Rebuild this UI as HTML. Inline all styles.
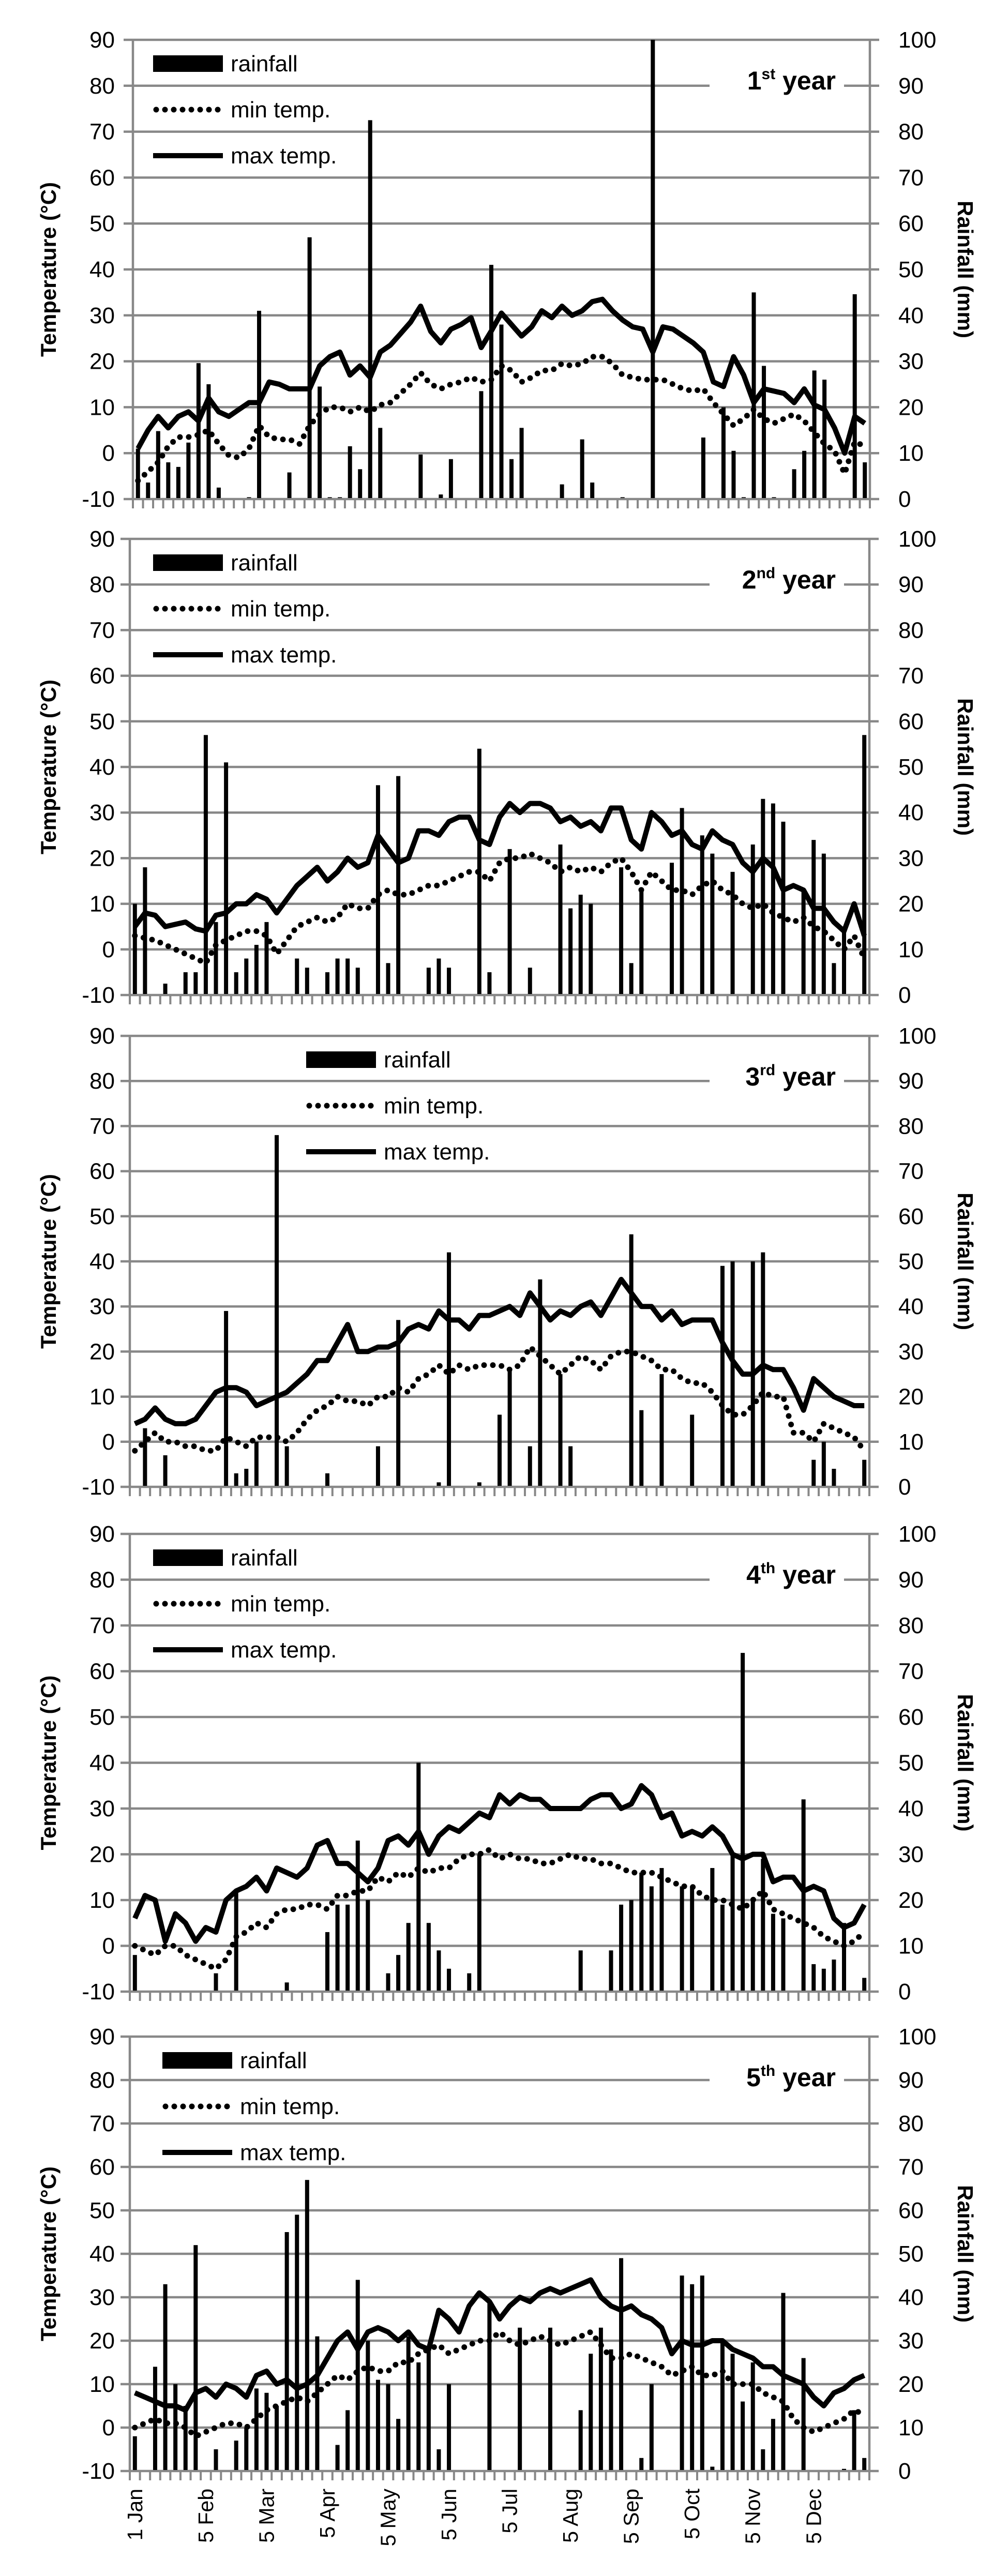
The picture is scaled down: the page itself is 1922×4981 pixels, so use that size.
<!DOCTYPE html>
<html><head><meta charset="utf-8"><style>
html,body{margin:0;padding:0;background:#fff;}
svg{display:block;}
text{font-family:"Liberation Sans",sans-serif;}
</style></head><body>
<svg id="chart" width="1922" height="4981" viewBox="0 0 1922 4981" xmlns="http://www.w3.org/2000/svg"></svg>
<script>
// ---- data (pentads, 73 per year) ----
const xLabels = ["1 Jan","5 Feb","5 Mar","5 Apr","5 May","5 Jun","5 Jul","5 Aug","5 Sep","5 Oct","5 Nov","5 Dec"];
const xLabelIdx = [0,7,13,19,25,31,37,43,49,55,61,67];
const tempTicks = [-10,0,10,20,30,40,50,60,70,80,90];
const rainTicks = [0,10,20,30,40,50,60,70,80,90,100];
const yearNames = ["1","2","3","4","5"];
const yearSup = ["st","nd","rd","th","th"];

const max1 = [1,5,8,5.5,8,9,7,12,9,8,9.5,11,11,15.5,15,14,14,14,19,21,22,17,19,16.5,22,23.5,26,28.5,32,26.5,24,27,28,29.5,23,26.6,30.5,28,25.5,27.5,31,29.5,32,30,31,33,33.5,31,29,27.5,27,22,27.5,27,25.5,24,22,15.5,14.5,21,17,11,14,13.5,13,11,14,10.5,9.5,5.5,0,8,6.5];
const min1 = [-6,-4,-2,1.5,3.5,3.5,4,5,2,-0.5,-1,1,6,3.5,3,3,2,6,8.5,10,10,9,10,9,10.5,11,13,15,17.5,15,14,15,15.5,16.5,15.5,16,19,18,15.5,16.5,18,18,19.5,19,19.5,21,21,19.5,17,16.5,16,16,16,15,14,13.5,14,11,8.5,6,7.5,9.5,7.5,6.5,7.5,8.5,7,4.5,2,0.5,-4.5,2.5,1.5];
const rain1 = [11,3.6,14.8,8,7,12.3,29.6,25,2.5,0,0,0.4,41,0,0,5.8,0,57,24.5,0.4,0.4,11.5,6.5,82.5,15.5,0,0,0,9.7,0,1,8.7,0,0,23.5,51,38,8.7,15.5,0,0,0,3.2,0,13,3.6,0,0,0.4,0,0,100,0,0,0,0,13.4,0,20,10.5,0.4,45,29,0.4,0,6.5,10.5,28,26,0,0,44.6,8];

const max2 = [5,8,7.5,5,5.5,6,4.5,4,7.5,8,10,10,12,11,8,11,14,16,18,15,17,20,18,19,25,22,19,20,26,26,25,28,29,29,24,23,29,32,30,32,32,31,28,29,27,28,26,31,31,24,22,30,28,25,26,23,22,26,24,23,19,17,20,18,13,14,13,9,9,6,4,10,3];
const min2 = [3,2.5,2,1,0,-1,-2,-3,1,2,3,4,4,3,-1,2,5,6,7,6,7,10,9,9,12,13,12,12,13,14,14,15,16,17,17,15,19,20,20,21,20,19,17,18,17,18,17,19,20,17,13,17,15,13,13,12,14,15,13,12,10,9,10,8,7,6,7,5,4,2,0,3,-2];
const rain2 = [20,28,0,2.5,0,5,5,57,16,51,5,8,11,16,0,0,8,6,0,5,8,8,6,0,46,7,48,0,0,6,8,6,0,0,54,5,0,32,0,6,0,0,33,19,22,20,0,0,28,7,23,0,0,29,41,0,35,31,0,27,0,33,43,42,38,0,23,34,31,7,14,0,57];

const max3 = [4,5,7.5,5,4,4,5,8,11,12,12,11,8,9,10,11,13,15,18,18,22,26,20,20,21,21,22,25,26,25,29,27,27,25,28,28,29,30,28,33,30,27,29,28,30,31,28,32,36,33,30,30,27,29,26,27,27,27,22,18,15,15,17,16,16,12,7,14,12,10,9,8,8];
const min3 = [-2,0,2,0,0,-1,-1,-2,-2,1,0,-1,1,1,1,0,2,5,7,8,10,9,9,8,10,10,12,11,14,15,17,15,17,16,17,17,17,16,17,21,19,17,15,17,19,18,16,19,20,20,19,18,16,16,14,13,13,11,8,6,6,8,11,10,10,2,2,0,4,3,2,1,-2];
const rain3 = [0,13,0,7,0,0,0,0,0,39,3,4,10,0,78,9,0,0,0,3,0,0,0,0,9,0,37,0,0,0,1,52,0,0,1,0,16,26,0,9,46,0,25,9,0,0,0,0,0,56,17,0,25,0,0,16,0,0,49,50,0,50,52,0,0,0,0,6,10,4,0,0,6];

const max4 = [6,11,10,1,7,5,1,4,3,10,12,13,15,12,17,16,15,17,22,23,18,18,16,14,17,23,24,22,25,20,24,26,25,27,29,28,33,31,33,32,32,30,30,30,30,32,33,33,30,31,35,33,28,29,24,25,24,26,24,20,19,20,20,14,15,15,12,13,12,6,4,5,9];
const min4 = [0,-1,-2,0,0,-2,-3,-4,-5,-3,2,3,5,4,7,8,8,9,9,8,11,11,12,12,15,14,16,15,17,16,17,17,19,20,20,21,19,20,19,19,18,18,19,20,19,19,18,18,17,16,16,16,15,14,13,13,11,10,10,9,8,10,12,8,7,6,5,4,2,1,0,1,3];
const rain4 = [8,0,0,0,0,0,0,0,4,0,22,0,0,0,0,2,0,0,0,13,19,19,33,20,0,4,8,15,50,15,9,5,0,4,30,0,0,0,0,0,0,0,0,0,9,0,0,9,19,20,26,23,27,0,23,23,0,27,19,30,74,20,29,17,16,0,42,6,5,7,15,0,3];

const max5 = [8,7,6,5,5,4,8,9,7,10,9,7,12,13,10,11,9,10,12,16,20,22,18,22,23,22,20,22,19,18,27,25,22,28,31,29,25,28,30,29,31,32,31,32,33,34,30,28,27,28,26,25,23,17,20,19,19,20,20,18,17,16,14,14,12,11,10,7,5,8,9,11,12];
const min5 = [0,1,2,1,1,0,-2,-1,0,1,1,0,2,4,5,6,7,6,8,10,12,11,13,14,13,13,15,15,17,18,19,17,18,19,20,20,22,20,19,20,21,20,19,20,21,22,19,16,16,17,16,15,14,12,13,14,12,12,13,10,10,10,8,7,6,2,0,-1,0,1,2,4,3];
const rain5 = [8,0,24,43,20,15,52,0,5,0,7,10,19,18,15,55,59,67,31,0,6,14,44,30,21,20,12,31,25,28,5,20,0,0,0,39,0,0,33,0,0,33,0,0,14,27,33,28,49,0,3,20,0,0,45,43,45,1,30,27,16,25,5,12,41,0,26,0,0,0,0.5,14,3];

const maxData = [max1,max2,max3,max4,max5];
const minData = [min1,min2,min3,min4,min5];
const rainData = [rain1,rain2,rain3,rain4,rain5];

// ---- layout ----
const panels = [
  {top:77,bot:965,left:257,right:1682,leg:296},
  {top:1042,bot:1924,left:251,right:1681,leg:296},
  {top:2003,bot:2875,left:251,right:1681,leg:592},
  {top:2966,bot:3851,left:251,right:1681,leg:296},
  {top:3938,bot:4778,left:251,right:1681,leg:314}
];
const NS="http://www.w3.org/2000/svg";
const svg=document.getElementById('chart');
function mk(tag,attrs,parent){const e=document.createElementNS(NS,tag);for(const k in attrs)e.setAttribute(k,attrs[k]);(parent||svg).appendChild(e);return e;}
const GRAY="#888888";

panels.forEach((p,pi)=>{
  const g=mk('g',{});
  
  
  const n=73;
  const band=(p.right-p.left)/n;
  const xc=i=>p.left+(i+0.5)*band;
  const yT=t=>p.bot-(t+10)/100*(p.bot-p.top);
  const yR=r=>p.bot-r/100*(p.bot-p.top);

  tempTicks.forEach(t=>{
    const l=mk('line',{x1:p.left-18,x2:p.right+18,y1:yT(t),y2:yT(t),stroke:GRAY,'stroke-width':4.5},g);
    
    
    const tx=mk('text',{x:222,y:yT(t)+15,'text-anchor':'end','font-size':44},g);
    tx.textContent=t;
    
    
  });
  rainTicks.forEach(r=>{
    const tx=mk('text',{x:1737,y:yR(r)+15,'text-anchor':'start','font-size':44},g);
    tx.textContent=r;
    
    
  });
  const la=mk('line',{x1:p.left,x2:p.left,y1:p.top,y2:p.bot,stroke:GRAY,'stroke-width':4.5},g);
  
  
  const ra=mk('line',{x1:p.right,x2:p.right,y1:p.top,y2:p.bot,stroke:GRAY,'stroke-width':4.5},g);
  
  
  for(let i=0;i<=n;i++){
    const x=p.left+i*band;
    const tk=mk('line',{x1:x,x2:x,y1:p.bot,y2:p.bot+18,stroke:GRAY,'stroke-width':4},g);
    
    
  }
  const cy=(p.top+p.bot)/2;
  const at=mk('text',{x:0,y:0,'text-anchor':'middle','font-size':42,'font-weight':'bold',transform:`translate(108,${cy}) rotate(-90)`},g);
  at.textContent='Temperature (°C)';
  
  
  const rt=mk('text',{x:0,y:0,'text-anchor':'middle','font-size':42,'font-weight':'bold',transform:`translate(1852,${cy}) rotate(90)`},g);
  rt.textContent='Rainfall (mm)';
  
  

  rainData[pi].forEach((r,i)=>{
    if(r<=0)return;
    const b=mk('rect',{x:xc(i)-4,y:yR(r),width:8,height:p.bot-2-yR(r),fill:'#000'},g);
    
    
  });
  const pts=a=>a.map((v,i)=>xc(i).toFixed(1)+','+yT(v).toFixed(1)).join(' ');
  const mn=mk('polyline',{points:pts(minData[pi]),fill:'none',stroke:'#000','stroke-width':11,'stroke-linecap':'round','stroke-dasharray':'0 17'},g);
  
  
  const mx=mk('polyline',{points:pts(maxData[pi]),fill:'none',stroke:'#000','stroke-width':10,'stroke-linejoin':'round'},g);
  
  

  const lx=p.leg, r1=p.top+46, r2=p.top+135, r3=p.top+224;
  const lb=mk('rect',{x:lx,y:r1-16,width:135,height:32,fill:'#000'},g);
  
  
  const ld=mk('line',{x1:lx+6,x2:lx+130,y1:r2,y2:r2,stroke:'#000','stroke-width':11,'stroke-linecap':'round','stroke-dasharray':'0 17'},g);
  
  
  const ls=mk('line',{x1:lx,x2:lx+135,y1:r3,y2:r3,stroke:'#000','stroke-width':10},g);
  
  
  [['rainfall',r1],['min temp.',r2],['max temp.',r3]].forEach(([t,y])=>{
    const tx=mk('text',{x:lx+150,y:y+15,'font-size':44},g);
    tx.textContent=t;
    
    
  });
  const yb=mk('rect',{x:1372,y:p.top+40,width:260,height:80,fill:'#fff'},g);
  
  
  const yl=mk('text',{x:1616,y:p.top+96,'text-anchor':'end','font-size':50,'font-weight':'bold'},g);
  
  
  const t1=mk('tspan',{},yl); t1.textContent=yearNames[pi];
  const t2=mk('tspan',{'font-size':30,dy:-20},yl); t2.textContent=yearSup[pi];
  const t3=mk('tspan',{dy:20},yl); t3.textContent=' year';

  if(pi===panels.length-1){
    xLabels.forEach((lab,k)=>{
      const x=xc(xLabelIdx[k])+14;
      const tx=mk('text',{x:0,y:0,'text-anchor':'end','font-size':41,'font-family':'DejaVu Sans, sans-serif',transform:`translate(${x},4812) rotate(-90)`},g);
      tx.textContent=lab;
      
      
    });
  }
});
</script>
</body></html>
